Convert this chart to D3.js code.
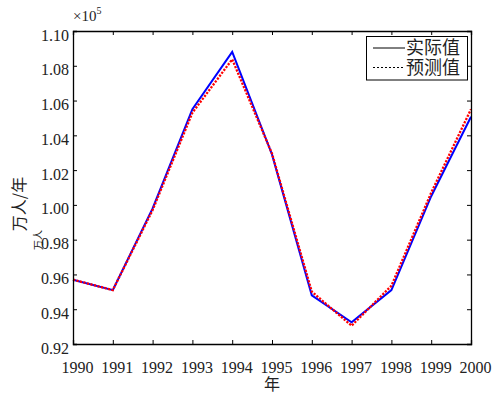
<!DOCTYPE html>
<html>
<head>
<meta charset="utf-8">
<script src="https://cdn.jsdelivr.net/npm/d3@7"></script>
<style>
html,body{margin:0;padding:0;background:#fff;}
svg{display:block;}
</style>
</head>
<body>
<svg id="chart" width="495" height="395"></svg>
<script>
const years = [1990,1991,1992,1993,1994,1995,1996,1997,1998,1999,2000];
const actual = [95700,95100,99800,105500,108800,102900,94800,93250,95100,100500,105070];
const predicted = [95700,95100,99700,105300,108370,102950,95010,93050,95350,100700,105500];
const yTicks = [92000,94000,96000,98000,100000,102000,104000,106000,108000,110000];
const legendLabels = ["实际值","预测值"];
const xTitle = "年";
const yTitle = "万人/年";

const serif = "'Liberation Serif','Times New Roman',serif";
const cjk = "'Noto Sans CJK SC','Noto Sans CJK JP',sans-serif";

const svg = d3.select("#chart");
const L = 73, R = 471, T = 31, B = 344;

const x = d3.scaleLinear().domain([1990,2000]).range([L,R]);
const y = d3.scaleLinear().domain([92000,110000]).range([B,T]);

// lines
const line = d3.line().x((d,i)=>x(years[i])).y(d=>y(d));
svg.append("path").datum(actual).attr("d",line)
  .attr("fill","none").attr("stroke","#0000ff").attr("stroke-width",2).attr("stroke-linejoin","miter");
svg.append("path").datum(predicted).attr("d",line)
  .attr("fill","none").attr("stroke","#ff0000").attr("stroke-width",2.3).attr("stroke-dasharray","2.2,1.4");

// axes (ticks inward, all four sides)
const fmt = d => (d/1e5).toFixed(2);
const gB = svg.append("g").attr("transform",`translate(0,${B})`)
  .call(d3.axisBottom(x).tickValues(years).tickFormat(d3.format("d")).tickSize(-4).tickPadding(0));
const gT = svg.append("g").attr("transform",`translate(0,${T})`)
  .call(d3.axisTop(x).tickValues(years).tickFormat("").tickSize(-4));
const gL = svg.append("g").attr("transform",`translate(${L},0)`)
  .call(d3.axisLeft(y).tickValues(yTicks).tickFormat(fmt).tickSize(-4).tickPadding(0));
const gR = svg.append("g").attr("transform",`translate(${R},0)`)
  .call(d3.axisRight(y).tickValues(yTicks).tickFormat("").tickSize(-4));

[gB,gT,gL,gR].forEach(g=>{
  g.select(".domain").attr("stroke","#000").attr("stroke-width",1.3);
  g.selectAll(".tick line").attr("stroke","#000").attr("stroke-width",1);
  g.selectAll("text").attr("font-family",serif).attr("font-size",16).attr("fill","#222");
});
gB.selectAll(".tick text").attr("dy",null).attr("y",29).attr("dx",4);
gL.selectAll(".tick text").attr("dy",null).attr("y",9).attr("x",-4);

// exponent
const ex = svg.append("text").attr("x",73).attr("y",21).attr("font-family",serif).attr("font-size",15).attr("fill","#222");
ex.append("tspan").text("×10");
ex.append("tspan").text("5").attr("font-size",10).attr("dy",-7);

// axis titles
svg.append("text").attr("x",272).attr("y",390).attr("text-anchor","middle")
  .attr("font-family",cjk).attr("font-size",16).attr("fill","#222").text(xTitle);
svg.append("text").attr("transform","translate(25,204) rotate(-90)").attr("text-anchor","middle")
  .attr("font-family",cjk).attr("font-size",16).attr("fill","#222").text(yTitle);
svg.append("text").attr("transform","translate(42,240) rotate(-90)").attr("text-anchor","middle")
  .attr("font-family",cjk).attr("font-size",10).attr("fill","#222").text("万人");

// legend
const lg = svg.append("g");
lg.append("rect").attr("x",366.5).attr("y",36.5).attr("width",101).attr("height",43.5)
  .attr("fill","#fff").attr("stroke","#000").attr("stroke-width",1);
legendLabels.forEach((t,i)=>{
  const yy = 48 + i*19.5;
  lg.append("line").attr("x1",373).attr("x2",405).attr("y1",yy).attr("y2",yy)
    .attr("stroke","#000").attr("stroke-width",1).attr("stroke-dasharray", i? "2,2": null);
  lg.append("text").attr("x",406).attr("y",yy+6).attr("font-family",cjk).attr("font-size",18)
    .attr("fill","#222").text(t);
});
</script>
</body>
</html>
